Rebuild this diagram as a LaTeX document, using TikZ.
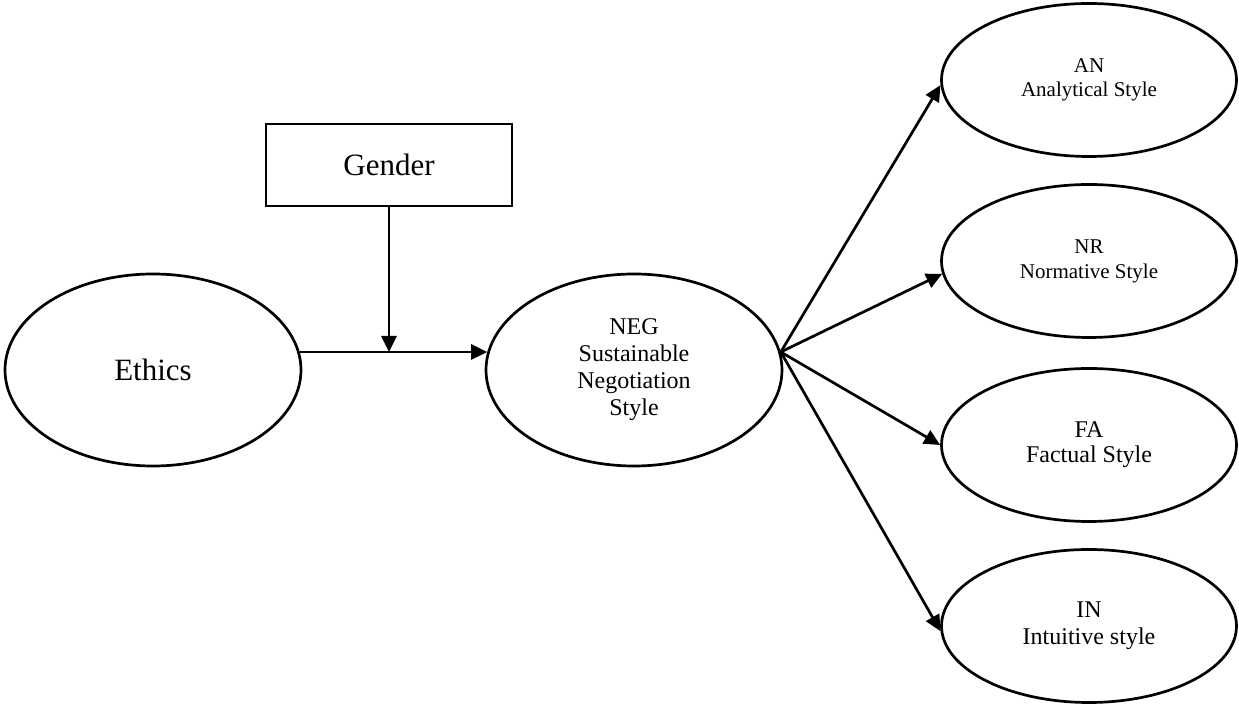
\documentclass[tikz,border=0pt]{standalone}
\usepackage{fontspec}
\setmainfont{Liberation Serif}
\usetikzlibrary{arrows.meta,shapes.geometric}

\begin{document}
\begin{tikzpicture}[x=0.5pt,y=-0.5pt,>={Triangle[length=8pt,width=7.5pt]},line width=1.35pt,
    bigoval/.style={draw,ellipse,inner sep=0pt,minimum width=148pt,minimum height=96pt,align=center},
    styleoval/.style={draw,ellipse,inner sep=0pt,minimum width=147.5pt,minimum height=76.5pt,align=center}]
  \useasboundingbox (0,0) rectangle (1239,704);
  \node[bigoval,font=\fontsize{15.5}{18}\selectfont] (ethics) at (153,370) {Ethics};
  \node[draw,inner sep=0pt,minimum width=123pt,minimum height=41pt,font=\fontsize{15.5}{18}\selectfont]
    (gender) at (389,165) {Gender};
  \node[bigoval,font=\fontsize{12}{13.5}\selectfont] (neg) at (634,370)
    {NEG\\Sustainable\\Negotiation\\Style};
  \node[styleoval,font=\fontsize{10.5}{12}\selectfont] (an) at (1089,80) {AN\\Analytical Style};
  \node[styleoval,font=\fontsize{10.5}{12.5}\selectfont] (nr) at (1089,261) {NR\\Normative Style};
  \node[styleoval,font=\fontsize{12}{12.5}\selectfont] (fa) at (1089,445) {FA\\Factual Style};
  \node[styleoval,font=\fontsize{12}{13.5}\selectfont] (in) at (1089,626) {IN\\Intuitive style};
  \coordinate (join) at (gender.south |- ethics.7);
  \draw[->] (ethics.7) -- (neg.173);
  \draw[->] (gender.south) -- (join);
  \draw[->] (neg.7) -- (an.182);
  \draw[->] (neg.7) -- (nr.185);
  \draw[->] (neg.7) -- (fa.west);
  \draw[->] (neg.7) -- (in.182);
\end{tikzpicture}
\end{document}
